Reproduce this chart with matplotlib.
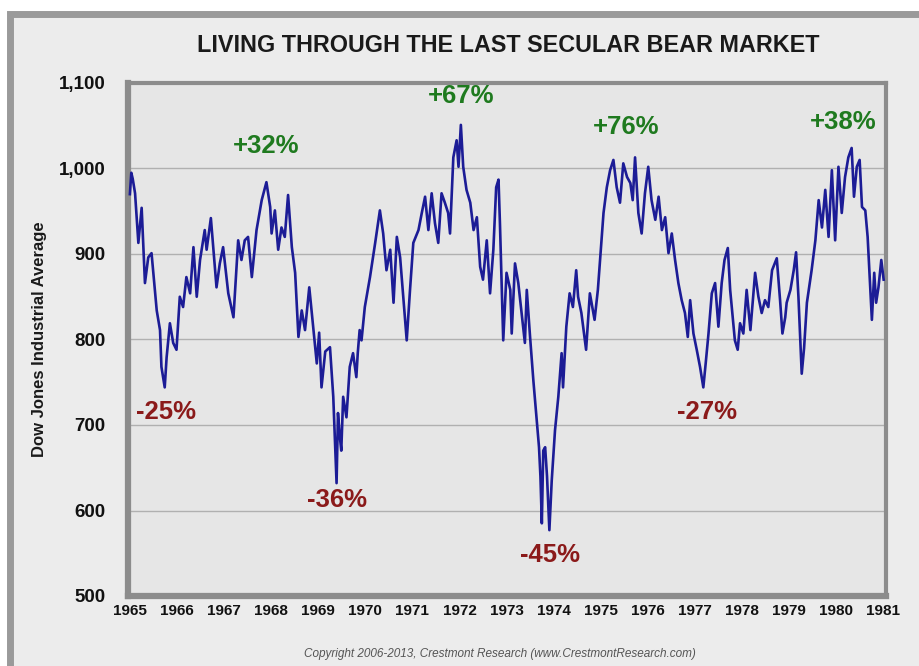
import matplotlib.pyplot as plt
from matplotlib.patches import Rectangle
from matplotlib.ticker import FuncFormatter

# Dow Jones Industrial Average (x = chart's decimal year)
years = [1965.00, 1965.03, 1965.06, 1965.11, 1965.18, 1965.25, 1965.32, 1965.39, 1965.46, 1965.57,
         1965.64, 1965.67, 1965.74, 1965.78, 1965.85, 1965.92, 1965.99, 1966.06, 1966.13, 1966.20,
         1966.28, 1966.35, 1966.42, 1966.49, 1966.59, 1966.63, 1966.72, 1966.84, 1966.91, 1966.98,
         1967.09, 1967.20, 1967.30, 1967.37, 1967.44, 1967.51, 1967.59, 1967.69, 1967.80, 1967.90,
         1967.98, 1968.01, 1968.08, 1968.15, 1968.22, 1968.29, 1968.36, 1968.44, 1968.51, 1968.58,
         1968.65, 1968.72, 1968.81, 1968.90, 1968.97, 1969.02, 1969.07, 1969.15, 1969.25, 1969.32,
         1969.39, 1969.42, 1969.46, 1969.49, 1969.53, 1969.60, 1969.67, 1969.74, 1969.81, 1969.84,
         1969.88, 1969.92, 1969.99, 1970.10, 1970.21, 1970.31, 1970.38, 1970.45, 1970.53, 1970.60,
         1970.67, 1970.74, 1970.88, 1970.95, 1971.02, 1971.13, 1971.20, 1971.27, 1971.34, 1971.41,
         1971.48, 1971.55, 1971.62, 1971.69, 1971.76, 1971.80, 1971.87, 1971.94, 1971.98, 1972.03,
         1972.08, 1972.15, 1972.23, 1972.30, 1972.37, 1972.44, 1972.50, 1972.58, 1972.65, 1972.72,
         1972.78, 1972.83, 1972.86, 1972.93, 1973.00, 1973.08, 1973.11, 1973.18, 1973.25, 1973.32,
         1973.39, 1973.43, 1973.50, 1973.57, 1973.64, 1973.69, 1973.72, 1973.75, 1973.78, 1973.82,
         1973.86, 1973.91, 1973.96, 1974.03, 1974.10, 1974.17, 1974.20, 1974.27, 1974.34, 1974.41,
         1974.48, 1974.52, 1974.59, 1974.69, 1974.77, 1974.87, 1974.94, 1975.06, 1975.13, 1975.20,
         1975.27, 1975.34, 1975.41, 1975.48, 1975.56, 1975.63, 1975.68, 1975.73, 1975.80, 1975.87,
         1975.94, 1976.01, 1976.08, 1976.16, 1976.23, 1976.30, 1976.37, 1976.44, 1976.51, 1976.58,
         1976.65, 1976.72, 1976.79, 1976.85, 1976.90, 1976.97, 1977.04, 1977.11, 1977.18, 1977.23,
         1977.29, 1977.36, 1977.43, 1977.50, 1977.57, 1977.63, 1977.70, 1977.75, 1977.85, 1977.91,
         1977.96, 1978.03, 1978.10, 1978.18, 1978.28, 1978.35, 1978.42, 1978.49, 1978.56, 1978.64,
         1978.74, 1978.81, 1978.86, 1978.92, 1978.95, 1979.03, 1979.10, 1979.15, 1979.20, 1979.27,
         1979.32, 1979.38, 1979.48, 1979.56, 1979.63, 1979.70, 1979.77, 1979.84, 1979.91, 1979.98,
         1980.05, 1980.12, 1980.19, 1980.26, 1980.33, 1980.38, 1980.44, 1980.50, 1980.55, 1980.62,
         1980.67, 1980.72, 1980.76, 1980.81, 1980.85, 1980.90, 1980.96, 1981.01]
dow = [970, 995, 988, 971, 913, 954, 866, 896, 901, 834,
       811, 768, 744, 779, 819, 796, 788, 850, 838, 873,
       854, 908, 850, 893, 928, 905, 942, 861, 889, 908,
       854, 826, 916, 893, 916, 920, 873, 928, 963, 984,
       955, 924, 951, 905, 931, 920, 969, 908, 878, 803,
       834, 811, 861, 811, 772, 808, 744, 786, 791, 733,
       632, 714, 686, 670, 733, 709, 768, 784, 756, 784,
       811, 799, 838, 873, 913, 951, 924, 881, 905, 843,
       920, 896, 799, 858, 913, 928, 948, 967, 928, 971,
       936, 913, 971, 960, 948, 924, 1013, 1033, 1002, 1051,
       1002, 975, 960, 928, 943, 885, 870, 916, 854, 905,
       978, 987, 936, 799, 878, 858, 807, 889, 866, 831,
       796, 858, 803, 752, 706, 674, 640, 585, 670, 674,
       640, 577, 635, 694, 733, 784, 744, 815, 854, 838,
       881, 850, 831, 788, 854, 823, 858, 948, 978, 998,
       1010, 978, 960, 1006, 990, 983, 963, 1013, 948, 924,
       971, 1002, 963, 940, 967, 928, 943, 901, 924, 893,
       866, 846, 831, 803, 846, 807, 788, 768, 744, 772,
       807, 854, 866, 815, 866, 893, 907, 858, 799, 788,
       819, 807, 858, 811, 878, 850, 831, 846, 838, 881,
       895, 846, 807, 826, 843, 858, 881, 902, 850, 760,
       790, 843, 881, 916, 963, 931, 975, 920, 998, 916,
       1002, 948, 990, 1013, 1024, 967, 1002, 1010, 955, 951,
       920, 866, 823, 878, 843, 861, 893, 870]

# swing labels
gain_labels = ['+32%', '+67%', '+76%', '+38%']
gain_x = [1967.90, 1972.03, 1975.55, 1980.15]
gain_y = [1026, 1085, 1049, 1054]
loss_labels = ['-25%', '-36%', '-45%', '-27%']
loss_x = [1965.76, 1969.40, 1973.92, 1977.25]
loss_y = [715, 612, 548, 715]

year_ticks = list(range(1965, 1982))
value_ticks = [500, 600, 700, 800, 900, 1000, 1100]

plt.rcParams['font.family'] = ['Liberation Sans', 'DejaVu Sans']

fig = plt.figure(figsize=(9.19, 6.66), dpi=100)
fig.patch.set_facecolor('white')

# outer panel with grey border
panel = Rectangle((10 / 919, -0.01), 1.02, 1 - 14 / 666 + 0.01, transform=fig.transFigure,
                  facecolor='#ececec', edgecolor='#9a9a9a', linewidth=5, zorder=-10)
fig.patches.append(panel)

ax = fig.add_axes([128 / 919, 70 / 666, 758 / 919, 513 / 666])
ax.set_facecolor('#e6e6e6')
ax.plot(years, dow, color='#1c1c96', linewidth=1.9, zorder=3)

ax.set_xlim(1964.96, 1981.06)
ax.set_ylim(500, 1100)
ax.set_xticks(year_ticks)
ax.set_yticks(value_ticks)
ax.yaxis.set_major_formatter(FuncFormatter(lambda v, p: '{:,.0f}'.format(v)))
ax.grid(axis='y', color='#b0b0b0', linewidth=1)
ax.set_axisbelow(True)
ax.tick_params(axis='both', length=0)
ax.tick_params(axis='y', pad=16, labelsize=13.5)
ax.tick_params(axis='x', pad=6, labelsize=11)
for lab in ax.get_xticklabels() + ax.get_yticklabels():
    lab.set_fontweight('bold')
    lab.set_color('#111111')
for s in ax.spines.values():
    s.set_color('#8c8c8c')
    s.set_linewidth(3)
ax.spines['left'].set_linewidth(4.5)
ax.spines['bottom'].set_linewidth(4.5)

ax.set_ylabel('Dow Jones Industrial Average', fontsize=12, fontweight='bold', color='#1a1a1a')
ax.yaxis.set_label_coords(-0.107, 0.5)

for lab, x, y in zip(gain_labels, gain_x, gain_y):
    ax.text(x, y, lab, color='#1f7a1f', fontsize=18.5, fontweight='bold', ha='center', va='center')
for lab, x, y in zip(loss_labels, loss_x, loss_y):
    ax.text(x, y, lab, color='#8b1a1a', fontsize=18.5, fontweight='bold', ha='center', va='center')

fig.text(508 / 919, 1 - 46 / 666, 'LIVING THROUGH THE LAST SECULAR BEAR MARKET',
         fontsize=16.8, fontweight='bold', ha='center', va='center', color='#1a1a1a')
fig.text(500 / 919, 1 - 654 / 666,
         'Copyright 2006-2013, Crestmont Research (www.CrestmontResearch.com)',
         fontsize=8.5, style='italic', ha='center', va='center', color='#555555')

fig.savefig('out.png', dpi=100)
